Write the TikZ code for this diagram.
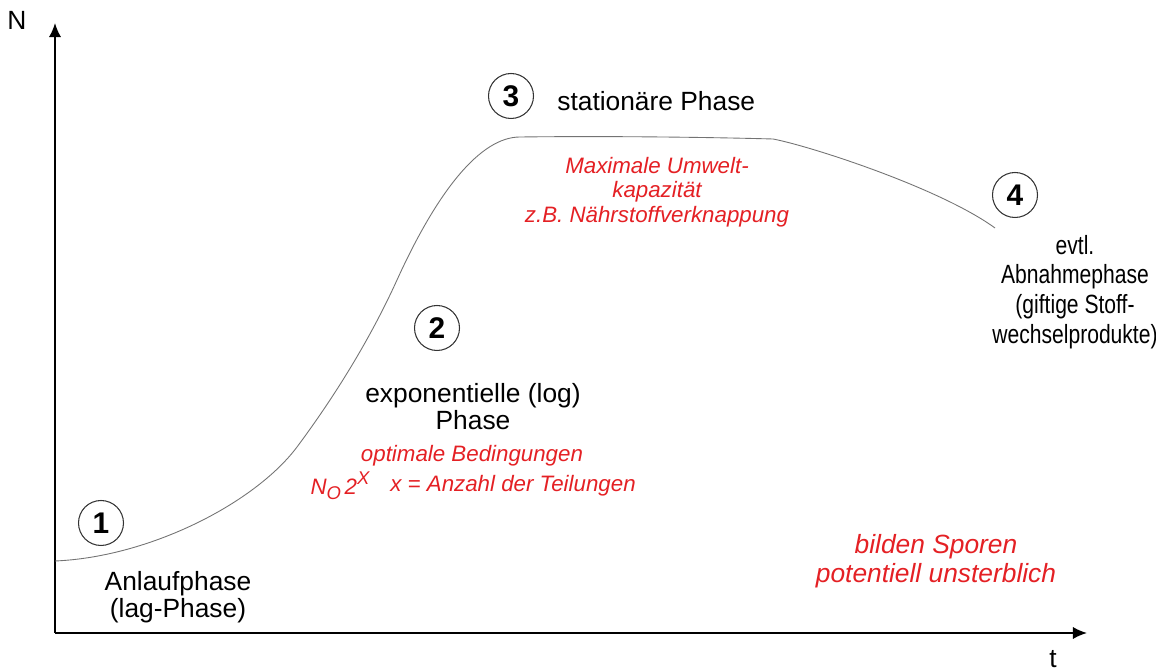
\documentclass[tikz,border=0pt]{standalone}
\usepackage{fontspec}
\setmainfont{Liberation Sans}
\newfontfamily\narrowsans[FakeStretch=0.8]{Liberation Sans}
\usetikzlibrary{arrows.meta}
\definecolor{noteRed}{RGB}{228,32,36}
\tikzset{
  phaselabel/.style={font=\fontsize{15}{15.3}\selectfont, align=center, inner sep=0pt},
  phasenote/.style={text=noteRed, font=\itshape\fontsize{12.7}{13.9}\selectfont, align=center, inner sep=0pt},
  phasenum/.style={circle, draw=black!80, line width=0.6pt, minimum size=0.9cm, inner sep=0pt,
    font=\bfseries\fontsize{17}{17}\selectfont},
  axis/.style={line width=1.1pt, -{Latex[length=8pt,width=7pt]}}
}
\newcommand{\smallidx}[1]{{\fontsize{10.5}{10.5}\selectfont #1}}
\begin{document}
\begin{tikzpicture}[x=0.02cm,y=-0.02cm]
    \useasboundingbox (0,0) rectangle (1156,671);
    \coordinate (origin) at (55,633);
    \coordinate (ntip) at (55,23);
    \coordinate (ttip) at (1087,633);
    \draw[axis] (origin) -- (ntip);
    \draw[axis] (origin) -- (ttip);
    \node[phaselabel] (nlabel) at (17,20) {N};
    \node[phaselabel] (tlabel) at (1053,659) {t};
    \draw[black!55, line width=0.5pt] (55,561) .. controls (150,557) and (255,503) .. (297,447)
      .. controls (329,404) and (367,346) .. (397,280)
      .. controls (437,192) and (480,137) .. (520,137)
      .. controls (600,136) and (700,137) .. (773,139)
      .. controls (810,146) and (940,188) .. (995,228);
    \node[phasenum] (one) at (101,523) {1};
    \node[phasenum] (two) at (437,328) {2};
    \node[phasenum] (three) at (511,96) {3};
    \node[phasenum] (four) at (1015,195) {4};
    \node[phaselabel] (lag) at (178,597) {Anlaufphase\\(lag-Phase)};
    \node[phaselabel] (expo) at (473,407) {exponentielle (log)\\Phase};
    \node[phaselabel, anchor=west] (stat) at (557,101) {stationäre Phase};
    \node[phaselabel, font=\narrowsans\fontsize{15}{17}\selectfont] (decl) at (1075,292)
      {evtl.\\Abnahmephase\\(giftige Stoff-\\wechselprodukte)};
    \node[phasenote] (capacity) at (657,192) {Maximale Umwelt-\\kapazität\\z.B. Nährstoffverknappung};
    \node[phasenote] (optimal) at (472,456) {optimale Bedingungen};
    \node[phasenote] (formula) at (340,486) {N\raisebox{-0.5ex}{\smallidx{O}}\,2\raisebox{0.8ex}{\smallidx{X}}};
    \node[phasenote] (divisions) at (513,486) {x = Anzahl der Teilungen};
    \node[phasenote, font=\itshape\fontsize{15}{16.4}\selectfont] (spores) at (936,561) {bilden Sporen\\potentiell unsterblich};
\end{tikzpicture}
\end{document}
